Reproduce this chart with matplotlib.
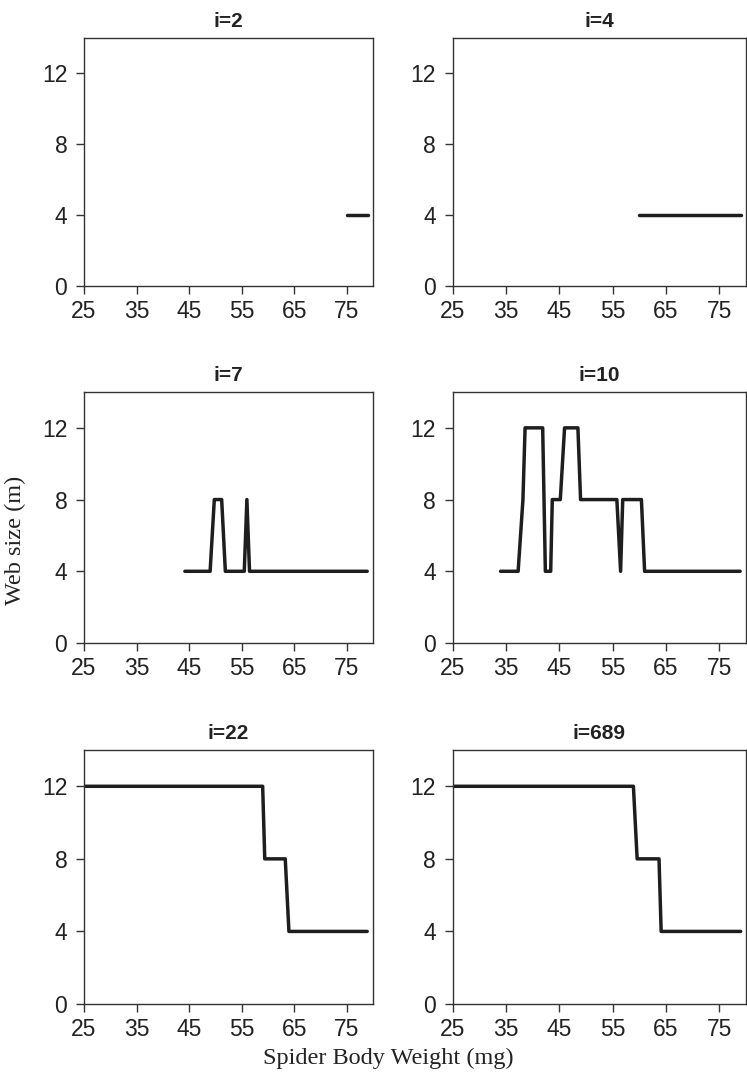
import matplotlib
matplotlib.use("Agg")
import matplotlib.pyplot as plt

# ---- data ----
titles = ["i=2", "i=4", "i=7", "i=10", "i=22", "i=689"]
x_i2 = [75, 79]
y_i2 = [4, 4]
x_i4 = [60, 79]
y_i4 = [4, 4]
x_i7 = [44.2, 49.0, 49.8, 51.2, 51.9, 55.5, 56.0, 56.5, 78.9]
y_i7 = [4, 4, 8, 8, 4, 4, 8, 4, 4]
x_i10 = [34, 37.3, 38.2, 38.6, 41.9, 42.4, 43.4, 43.7, 45.2, 46.0, 48.5, 49.0,
         55.8, 56.5, 56.9, 60.4, 61.0, 78.9]
y_i10 = [4, 4, 8, 12, 12, 4, 4, 8, 8, 12, 12, 8, 8, 4, 8, 8, 4, 4]
x_i22 = [25, 59, 59.4, 63.3, 64, 78.9]
y_i22 = [12, 12, 8, 8, 4, 4]
x_i689 = [25, 58.9, 59.6, 63.7, 64.1, 79]
y_i689 = [12, 12, 8, 8, 4, 4]
xticks = [25, 35, 45, 55, 65, 75]
yticks = [0, 4, 8, 12]

series = [(x_i2, y_i2), (x_i4, y_i4), (x_i7, y_i7),
          (x_i10, y_i10), (x_i22, y_i22), (x_i689, y_i689)]

W, H = 747, 1077
fig = plt.figure(figsize=(W / 100, H / 100), dpi=100)

cols = [(84, 373), (452.5, 746)]
rows = [(38, 286), (392, 643), (750, 1004)]

sans = "Liberation Sans"
serif = "Liberation Serif"
ink = "#1e1e1e"

for k, (xs, ys) in enumerate(series):
    r, c = divmod(k, 2)
    x0, x1 = cols[c]
    y0, y1 = rows[r]
    ax = fig.add_axes([x0 / W, (H - y1) / H, (x1 - x0) / W, (y1 - y0) / H])
    ax.plot(xs, ys, color=ink, lw=2.5, solid_capstyle="round",
            solid_joinstyle="round")
    ax.set_xlim(25, 80)
    ax.set_ylim(0, 14)
    ax.set_xticks(xticks)
    ax.set_yticks(yticks)
    ax.tick_params(direction="out", length=6, width=1, colors="#333333",
                   labelcolor="#222222", labelsize=16.5)
    ax.tick_params(axis="x", pad=4)
    ax.tick_params(axis="y", pad=6)
    for lab in ax.get_xticklabels() + ax.get_yticklabels():
        lab.set_family(sans)
    for s in ax.spines.values():
        s.set_color("#333333")
        s.set_linewidth(1.0)
    ax.set_title(titles[k], fontsize=15, fontweight="bold", family=sans,
                 color="#222222", pad=8)

fig.text(15 / W, 1 - 540 / H, "Web size (m)", rotation=90, ha="center",
         va="center", family=serif, fontsize=17.5, color="#222222")
fig.text(388 / W, 1 - 1058 / H, "Spider Body Weight (mg)", ha="center",
         va="center", family=serif, fontsize=17.5, color="#222222")

fig.savefig("out.png", dpi=100)
